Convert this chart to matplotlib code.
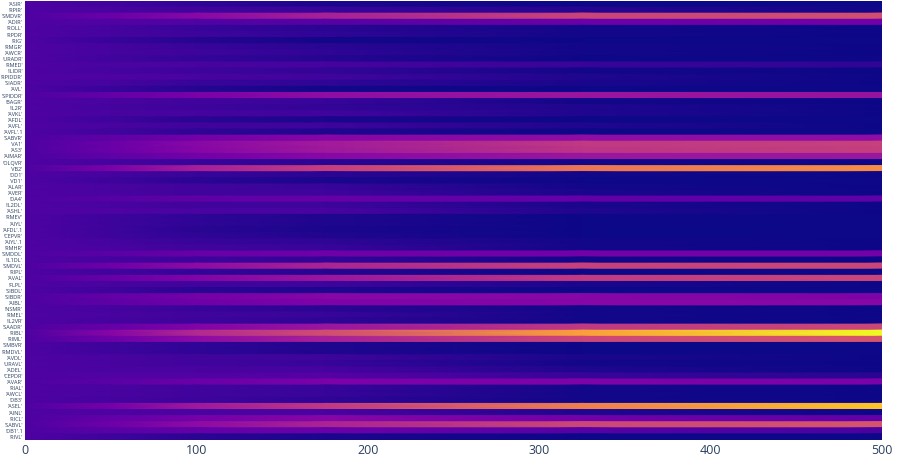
import numpy as np
import matplotlib
matplotlib.use("Agg")
import matplotlib.pyplot as plt

plt.rcParams['font.family'] = ['Open Sans', 'DejaVu Sans']

# neuron labels, top to bottom
neurons = ["'ASIR'", "'RPIR'", "'SMDVR'", "'ADIR'", "'ROLL'", "'RPDR'", "'RIG'", "'RMGR'",
           "'AWCR'", "'URADR'", "'RMED'", "'ILIDR'", "'RPIDDR'", "'SIADR'", "'AVL'", "'SPIDDR'",
           "'BAGR'", "'IL2R'", "'AVKL'", "'AFDL'", "'AVFL'", "'AVFL'.1", "'SABVR'", "'VA1'",
           "'AS3'", "'AIMAR'", "'OLQVR'", "'VB2'", "'DD1'", "'VD1'", "'ALAR'", "'AVER'",
           "'DA4'", "'IL2DL'", "'ASHL'", "'RMEV'", "'AIYL'", "'AFDL'.1", "'CEPVR'", "'AIYL'.1",
           "'RMHR'", "'SMDDL'", "'IL1DL'", "'SMDVL'", "'RIPL'", "'AVAL'", "'FLPL'", "'SIBDL'",
           "'SIBDR'", "'AIBL'", "'NSMR'", "'RMEL'", "'IL2VR'", "'SAADR'", "'RIBL'", "'RIML'",
           "'SMBVR'", "'RMDVL'", "'AVDL'", "'URAVL'", "'ADEL'", "'CEPDR'", "'AVAR'", "'RIAL'",
           "'AWCL'", "'DB3'", "'ASEL'", "'AINL'", "'RICL'", "'SABVL'", "'DB1'.1", "'RIVL'"]

time_points = [0, 50, 100, 175, 325, 500]

# activity (normalised) at each time point, one value per neuron
act_t0 = [0.13] * 72
act_t50 = [0.10, 0.12, 0.20, 0.14, 0.11, 0.11, 0.08, 0.11, 0.11, 0.10, 0.12, 0.11,
           0.13, 0.11, 0.08, 0.18, 0.12, 0.11, 0.12, 0.09, 0.12, 0.10, 0.17, 0.20,
           0.20, 0.17, 0.11, 0.24, 0.11, 0.09, 0.12, 0.12, 0.15, 0.12, 0.13, 0.09,
           0.09, 0.09, 0.09, 0.11, 0.12, 0.16, 0.11, 0.21, 0.10, 0.19, 0.12, 0.09,
           0.18, 0.17, 0.11, 0.12, 0.11, 0.19, 0.27, 0.21, 0.09, 0.09, 0.12, 0.12,
           0.12, 0.14, 0.16, 0.12, 0.12, 0.11, 0.23, 0.13, 0.18, 0.21, 0.16, 0.09]
act_t100 = [0.06, 0.10, 0.28, 0.14, 0.08, 0.09, 0.04, 0.08, 0.09, 0.07, 0.12, 0.09,
            0.12, 0.08, 0.04, 0.24, 0.10, 0.09, 0.11, 0.05, 0.10, 0.06, 0.22, 0.28,
            0.27, 0.22, 0.08, 0.36, 0.08, 0.05, 0.10, 0.10, 0.17, 0.10, 0.12, 0.06,
            0.06, 0.05, 0.06, 0.08, 0.10, 0.19, 0.09, 0.29, 0.07, 0.26, 0.10, 0.05,
            0.23, 0.21, 0.08, 0.10, 0.09, 0.26, 0.40, 0.29, 0.06, 0.06, 0.10, 0.10,
            0.12, 0.14, 0.20, 0.10, 0.10, 0.09, 0.34, 0.12, 0.23, 0.29, 0.18, 0.05]
act_t175 = [0.02, 0.08, 0.37, 0.15, 0.05, 0.06, 0.01, 0.05, 0.06, 0.04, 0.11, 0.07,
            0.10, 0.06, 0.01, 0.30, 0.08, 0.07, 0.10, 0.02, 0.09, 0.03, 0.27, 0.35,
            0.34, 0.28, 0.05, 0.47, 0.05, 0.02, 0.08, 0.09, 0.19, 0.09, 0.12, 0.03,
            0.03, 0.02, 0.03, 0.06, 0.08, 0.21, 0.07, 0.38, 0.04, 0.33, 0.09, 0.03,
            0.27, 0.25, 0.05, 0.08, 0.06, 0.33, 0.52, 0.37, 0.03, 0.03, 0.09, 0.08,
            0.11, 0.15, 0.24, 0.08, 0.08, 0.06, 0.45, 0.12, 0.27, 0.38, 0.20, 0.02]
act_t325 = [0.00, 0.04, 0.49, 0.20, 0.01, 0.01, 0.00, 0.01, 0.01, 0.00, 0.08, 0.01,
            0.03, 0.02, 0.00, 0.33, 0.01, 0.03, 0.03, 0.00, 0.03, 0.00, 0.30, 0.45,
            0.44, 0.33, 0.01, 0.66, 0.01, 0.00, 0.01, 0.02, 0.18, 0.02, 0.03, 0.00,
            0.00, 0.00, 0.00, 0.01, 0.01, 0.22, 0.01, 0.48, 0.00, 0.46, 0.02, 0.00,
            0.27, 0.27, 0.01, 0.01, 0.01, 0.45, 0.78, 0.50, 0.00, 0.00, 0.02, 0.01,
            0.03, 0.08, 0.25, 0.01, 0.01, 0.01, 0.68, 0.03, 0.22, 0.50, 0.15, 0.00]
act_t500 = [0.00, 0.01, 0.53, 0.22, 0.00, 0.00, 0.00, 0.00, 0.00, 0.00, 0.06, 0.00,
            0.00, 0.00, 0.00, 0.32, 0.00, 0.00, 0.00, 0.00, 0.00, 0.00, 0.30, 0.48,
            0.47, 0.33, 0.00, 0.73, 0.00, 0.00, 0.00, 0.00, 0.17, 0.00, 0.00, 0.00,
            0.00, 0.00, 0.00, 0.00, 0.00, 0.22, 0.00, 0.50, 0.00, 0.50, 0.00, 0.00,
            0.25, 0.27, 0.00, 0.00, 0.00, 0.50, 1.00, 0.55, 0.00, 0.00, 0.00, 0.00,
            0.00, 0.05, 0.24, 0.00, 0.00, 0.00, 0.88, 0.00, 0.18, 0.55, 0.12, 0.00]

activity = np.array([act_t0, act_t50, act_t100, act_t175, act_t325, act_t500]).T
n = len(neurons)

# each neuron gets its own band: duplicate the row at the band's top and bottom edge
Y = np.repeat(np.column_stack([np.arange(n) - 0.5, np.arange(n) + 0.5]).ravel()[:, None],
              len(time_points), axis=1)
X = np.tile(np.array(time_points, dtype=float), (2 * n, 1))
C = np.repeat(activity, 2, axis=0)

fig = plt.figure(figsize=(8.97, 4.58), dpi=100)
ax = fig.add_axes([25 / 897, 1 - 440 / 458, 857 / 897, 439 / 458])
ax.pcolormesh(X, Y, C, shading='gouraud', cmap='plasma', vmin=0, vmax=1)

ax.set_xlim(0, 500)
ax.set_ylim(n - 0.5, -0.5)
ax.set_xticks([0, 100, 200, 300, 400, 500])
ax.set_yticks(np.arange(n))
ax.set_yticklabels(neurons)
ax.tick_params(axis='x', length=0, pad=3, labelsize=9, labelcolor='#2a3f5f')
ax.tick_params(axis='y', length=0, pad=1.5, labelsize=4.0, labelcolor='#2a3f5f')
for s in ax.spines.values():
    s.set_visible(False)

fig.savefig('out.png', dpi=100)
